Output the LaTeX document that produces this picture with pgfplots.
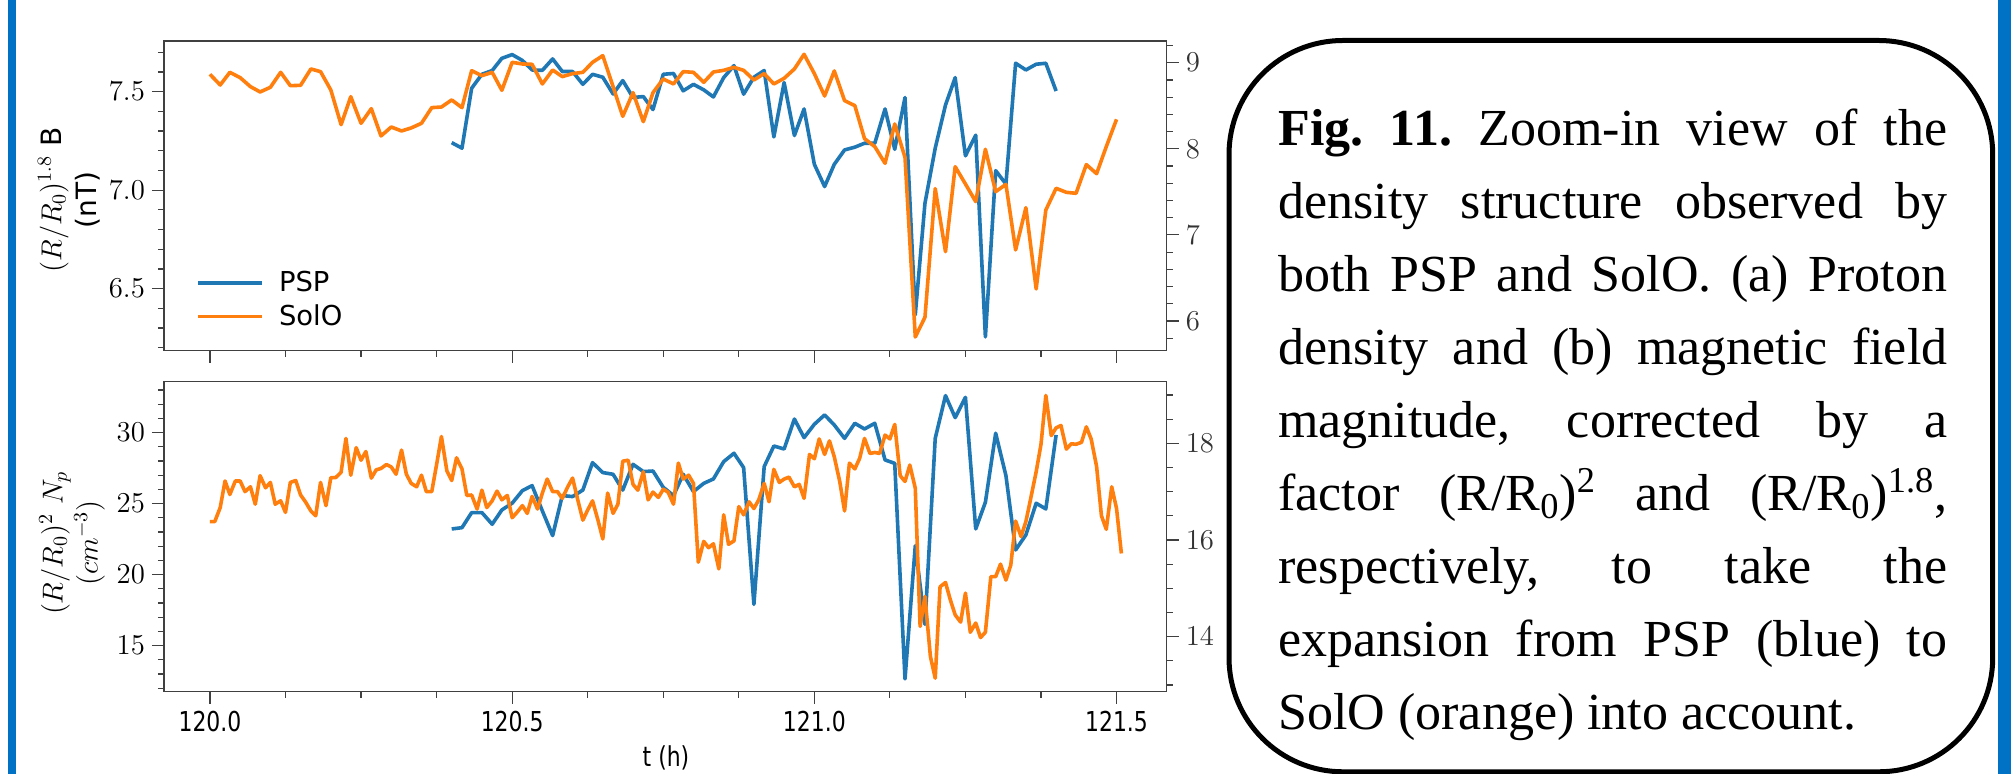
\documentclass[border=0pt]{standalone}
\usepackage[no-math]{fontspec}
\usepackage{pgfplots}
\usepackage{pgfplotstable}
\pgfplotsset{compat=1.18}
\newfontfamily\sansf{DejaVu Sans}
\newfontfamily\tickf[FakeStretch=0.8]{DejaVu Sans}
\newfontfamily\capf{Liberation Serif}
\definecolor{pspblue}{HTML}{1F77B4}
\definecolor{soloorange}{HTML}{FF7F0E}
\definecolor{barblue}{RGB}{0,114,198}
\definecolor{spine}{RGB}{64,64,64}

\pgfplotstableread{
t v
120.400 7.241
120.417 7.213
120.433 7.517
120.450 7.588
120.467 7.607
120.483 7.669
120.500 7.688
120.517 7.658
120.533 7.610
120.550 7.608
120.567 7.666
120.583 7.602
120.600 7.602
120.617 7.537
120.633 7.588
120.650 7.573
120.667 7.488
120.683 7.556
120.700 7.470
120.717 7.475
120.733 7.409
120.750 7.588
120.767 7.592
120.783 7.504
120.800 7.537
120.817 7.509
120.833 7.473
120.850 7.571
120.867 7.632
120.883 7.487
120.900 7.573
120.917 7.607
120.933 7.270
120.950 7.546
120.967 7.277
120.983 7.412
121.000 7.131
121.017 7.018
121.033 7.131
121.050 7.204
121.067 7.218
121.083 7.238
121.100 7.238
121.117 7.412
121.133 7.207
121.150 7.470
121.167 6.367
121.183 6.933
121.200 7.213
121.217 7.432
121.233 7.571
121.250 7.174
121.267 7.279
121.283 6.255
121.300 7.099
121.317 7.031
121.333 7.644
121.350 7.610
121.367 7.639
121.383 7.644
121.400 7.503
}\psptop

\pgfplotstableread{
t v
120.000 8.865
120.017 8.741
120.033 8.888
120.050 8.826
120.067 8.722
120.083 8.660
120.100 8.714
120.117 8.888
120.133 8.733
120.150 8.737
120.167 8.927
120.183 8.896
120.200 8.683
120.217 8.280
120.233 8.605
120.250 8.296
120.267 8.466
120.283 8.149
120.300 8.253
120.317 8.207
120.333 8.242
120.350 8.296
120.367 8.478
120.383 8.485
120.400 8.567
120.417 8.478
120.433 8.907
120.450 8.849
120.467 8.888
120.483 8.679
120.500 9.004
120.517 8.985
120.533 8.981
120.550 8.753
120.567 8.915
120.583 8.838
120.600 8.873
120.617 8.888
120.633 9.004
120.650 9.082
120.667 8.722
120.683 8.377
120.700 8.652
120.717 8.315
120.733 8.652
120.750 8.811
120.767 8.753
120.783 8.896
120.800 8.888
120.817 8.772
120.833 8.892
120.850 8.911
120.867 8.946
120.883 8.911
120.900 8.799
120.917 8.873
120.933 8.753
120.950 8.818
120.967 8.927
120.983 9.097
121.000 8.873
121.017 8.613
121.033 8.904
121.050 8.559
121.067 8.501
121.083 8.118
121.100 8.025
121.117 7.831
121.133 8.288
121.150 7.901
121.167 5.814
121.183 6.043
121.200 7.537
121.217 6.805
121.233 7.792
121.250 7.591
121.267 7.386
121.283 7.994
121.300 7.502
121.317 7.587
121.333 6.825
121.350 7.316
121.367 6.372
121.383 7.289
121.400 7.541
121.417 7.494
121.433 7.483
121.450 7.816
121.467 7.711
121.483 8.025
121.500 8.342
}\solotop

\pgfplotstableread{
t v
120.400 23.22
120.417 23.31
120.433 24.37
120.450 24.37
120.467 23.55
120.483 24.56
120.500 25.03
120.517 25.92
120.533 26.27
120.550 24.49
120.567 22.75
120.583 25.57
120.600 25.50
120.617 25.96
120.633 27.89
120.650 27.19
120.667 27.07
120.683 25.96
120.700 27.77
120.717 27.26
120.733 27.30
120.750 26.15
120.767 25.57
120.783 27.07
120.800 25.85
120.817 26.43
120.833 26.74
120.850 27.96
120.867 28.55
120.883 27.54
120.900 17.91
120.917 27.61
120.933 29.06
120.950 28.85
120.967 30.96
120.983 29.65
121.000 30.59
121.017 31.25
121.033 30.54
121.050 29.60
121.067 30.66
121.083 30.26
121.100 30.66
121.117 28.08
121.133 27.84
121.150 12.66
121.167 22.04
121.183 16.50
121.200 29.60
121.217 32.61
121.233 31.06
121.250 32.49
121.267 23.22
121.283 25.10
121.300 29.96
121.317 26.97
121.333 21.74
121.350 22.80
121.367 25.03
121.383 24.63
121.400 29.84
}\pspbot

\pgfplotstableread{
t v
120.000 16.38
120.008 16.38
120.017 16.67
120.025 17.22
120.033 16.94
120.042 17.22
120.050 17.22
120.058 17.00
120.067 17.10
120.075 16.74
120.083 17.33
120.092 17.08
120.100 17.19
120.108 16.74
120.117 16.81
120.125 16.57
120.133 17.19
120.142 17.23
120.150 16.93
120.158 16.79
120.167 16.60
120.175 16.50
120.183 17.19
120.192 16.71
120.200 17.29
120.208 17.29
120.217 17.40
120.225 18.10
120.233 17.34
120.242 17.91
120.250 17.65
120.258 17.83
120.267 17.28
120.275 17.45
120.283 17.48
120.292 17.56
120.300 17.51
120.308 17.36
120.317 17.86
120.325 17.36
120.333 17.17
120.342 17.10
120.350 17.34
120.358 17.00
120.367 17.00
120.375 17.56
120.383 18.14
120.392 17.43
120.400 17.23
120.408 17.70
120.417 17.47
120.425 16.92
120.433 16.93
120.442 16.64
120.450 17.03
120.458 16.67
120.467 16.81
120.475 17.01
120.483 16.83
120.492 16.92
120.500 16.46
120.508 16.57
120.517 16.71
120.525 16.55
120.533 16.90
120.542 16.64
120.550 16.97
120.558 17.26
120.567 17.00
120.575 17.00
120.583 16.86
120.592 17.10
120.600 17.28
120.608 16.86
120.617 16.41
120.625 16.62
120.633 16.81
120.642 16.41
120.650 16.02
120.658 16.97
120.667 16.55
120.675 16.74
120.683 17.63
120.692 17.65
120.700 17.15
120.708 17.03
120.717 17.41
120.725 16.83
120.733 16.99
120.742 16.88
120.750 17.05
120.758 16.99
120.767 16.74
120.775 17.59
120.783 17.26
120.792 17.34
120.800 17.17
120.808 15.54
120.817 15.97
120.825 15.84
120.833 15.92
120.842 15.40
120.850 16.52
120.858 15.91
120.867 15.98
120.875 16.69
120.883 16.52
120.892 16.79
120.900 16.65
120.908 16.83
120.917 17.17
120.925 16.79
120.933 17.46
120.942 17.19
120.950 17.26
120.958 17.30
120.967 17.10
120.975 17.15
120.983 16.86
120.992 17.77
121.000 17.68
121.008 18.09
121.017 17.77
121.025 18.05
121.033 17.72
121.042 17.21
121.050 16.60
121.058 17.59
121.067 17.47
121.075 17.69
121.083 18.10
121.092 17.79
121.100 17.81
121.108 17.79
121.117 18.17
121.125 18.09
121.133 18.39
121.142 17.33
121.150 17.21
121.158 17.55
121.167 17.07
121.175 14.21
121.183 14.83
121.192 13.59
121.200 13.14
121.208 15.03
121.217 15.12
121.225 14.76
121.233 14.45
121.242 14.30
121.250 14.90
121.258 14.09
121.267 14.28
121.275 13.98
121.283 14.09
121.292 15.24
121.300 15.24
121.308 15.50
121.317 15.17
121.325 15.48
121.333 16.39
121.342 16.07
121.350 16.38
121.358 16.86
121.367 17.41
121.375 17.98
121.383 18.99
121.392 18.16
121.400 18.32
121.408 18.37
121.417 17.88
121.425 17.99
121.433 17.98
121.442 18.02
121.450 18.34
121.458 18.09
121.467 17.52
121.475 16.50
121.483 16.22
121.492 17.10
121.500 16.65
121.508 15.72
}\solobot

\pgfplotsset{
  panel/.style={
    scale only axis, width=501.35pt, anchor=south west,
    xmin=119.924, xmax=121.583,
    tick align=outside, major tick length=6pt, minor tick length=3pt,
    axis line style={spine, line width=0.7pt},
    tick style={spine, line width=0.6pt},
    xtick={120,120.5,121,121.5},
    minor xtick={120.125,120.25,120.375,120.625,120.75,120.875,121.125,121.25,121.375},
  },
  psp/.style={pspblue, line width=1.8pt, line join=round},
  solo/.style={soloorange, line width=1.8pt, line join=round},
  lefttl/.style={yticklabel style={font=\fontsize{14}{16}\selectfont, text=black}},
  righttl/.style={yticklabel style={font=\fontsize{13.5}{16}\selectfont, text=black!80}},
}

\begin{document}
\begin{tikzpicture}
\useasboundingbox (0,0) rectangle (1005.5pt,387pt);
\fill[barblue] (4pt,0pt) rectangle (8pt,387pt);
\fill[barblue] (999pt,0pt) rectangle (1005.5pt,387pt);

% ---------------- top panel (B) ----------------
\begin{axis}[panel, at={(82pt,211.65pt)}, height=154.85pt,
  ymin=6.185, ymax=7.757,
  xtick pos=bottom, ytick pos=left, xticklabels={},
  ytick={6.5,7.0,7.5}, minor ytick={6.2,6.3,6.4,6.6,6.7,6.8,6.9,7.1,7.2,7.3,7.4,7.6,7.7},
  lefttl,
  yticklabel style={/pgf/number format/fixed, /pgf/number format/fixed zerofill, /pgf/number format/precision=1},
  legend style={at={(0,0)}, anchor=south west, xshift=16pt, yshift=9pt,
    draw=none, fill=none, font=\sansf\fontsize{13.7}{16}\selectfont,
    row sep=1pt, inner sep=0pt},
  legend cell align=left,
  legend image code/.code={\draw[#1] (0pt,0pt) -- (32pt,0pt); \path (37.5pt,0pt);},
]
\addplot[psp] table[x=t,y=v] {\psptop};
\addlegendentry{PSP}
\addlegendimage{solo}
\addlegendentry{SolO}
\end{axis}
\begin{axis}[panel, at={(82pt,211.65pt)}, height=154.85pt,
  ymin=5.655, ymax=9.252,
  axis y line*=right, axis x line=none,
  ytick={6,7,8,9}, minor ytick={5.8,6.2,6.4,6.6,6.8,7.2,7.4,7.6,7.8,8.2,8.4,8.6,8.8,9.2},
  righttl,
]
\addplot[solo] table[x=t,y=v] {\solotop};
\end{axis}

% ---------------- bottom panel (Np) ----------------
\begin{axis}[panel, at={(82pt,41.15pt)}, height=155pt,
  ymin=11.76, ymax=33.59,
  xtick pos=bottom, ytick pos=left,
  xticklabels={120.0,120.5,121.0,121.5},
  xticklabel style={font=\tickf\fontsize{13.7}{16}\selectfont},
  ytick={15,20,25,30}, minor ytick={12,13,14,16,17,18,19,21,22,23,24,26,27,28,29,31,32,33},
  lefttl,
]
\addplot[psp] table[x=t,y=v] {\pspbot};
\end{axis}
\begin{axis}[panel, at={(82pt,41.15pt)}, height=155pt,
  ymin=12.86, ymax=19.275,
  axis y line*=right, axis x line=none,
  ytick={14,16,18}, minor ytick={13,13.5,14.5,15,15.5,16.5,17,17.5,18.5,19},
  righttl,
]
\addplot[solo] table[x=t,y=v] {\solobot};
\end{axis}

% axis labels
\node[rotate=90, align=center, font=\fontsize{14}{17.5}\selectfont] at (34.5pt,287pt)
  {$(R/R_0)^{1.8}$ {\sansf B}\\{\sansf (nT)}};
\node[rotate=90, align=center, font=\fontsize{14}{17.5}\selectfont] at (36pt,115.5pt)
  {$(R/R_0)^2\ N_p$\\$(cm^{-3})$};
\node[anchor=base, font=\tickf\fontsize{13.7}{16}\selectfont] at (333pt,3.5pt) {t (h)};

% caption box
\draw[line width=2.5pt, rounded corners=57pt] (614.5pt,1.1pt) rectangle (996.35pt,366.75pt);
\begin{scope}[every node/.style={anchor=base west, inner sep=0pt, font=\capf\fontsize{26}{30}\selectfont\frenchspacing}]
\node at (639pt,314.25pt)  {\makebox[334.5pt][s]{\textbf{Fig. 11.} Zoom-in view of the}};
\node at (639pt,277.725pt) {\makebox[334.5pt][s]{density structure observed by}};
\node at (639pt,241.2pt)   {\makebox[334.5pt][s]{both PSP and SolO. (a) Proton}};
\node at (639pt,204.675pt) {\makebox[334.5pt][s]{density and (b) magnetic field}};
\node at (639pt,168.15pt)  {\makebox[334.5pt][s]{magnitude, corrected by a}};
\node at (639pt,131.625pt) {\makebox[334.5pt][s]{factor (R/R\textsubscript{0})\textsuperscript{2} and (R/R\textsubscript{0})\textsuperscript{1.8},}};
\node at (639pt,95.1pt)    {\makebox[334.5pt][s]{respectively, to take the}};
\node at (639pt,58.575pt)  {\makebox[334.5pt][s]{expansion from PSP (blue) to}};
\node at (639pt,22.05pt)   {SolO (orange) into account.};
\end{scope}
\end{tikzpicture}
\end{document}
